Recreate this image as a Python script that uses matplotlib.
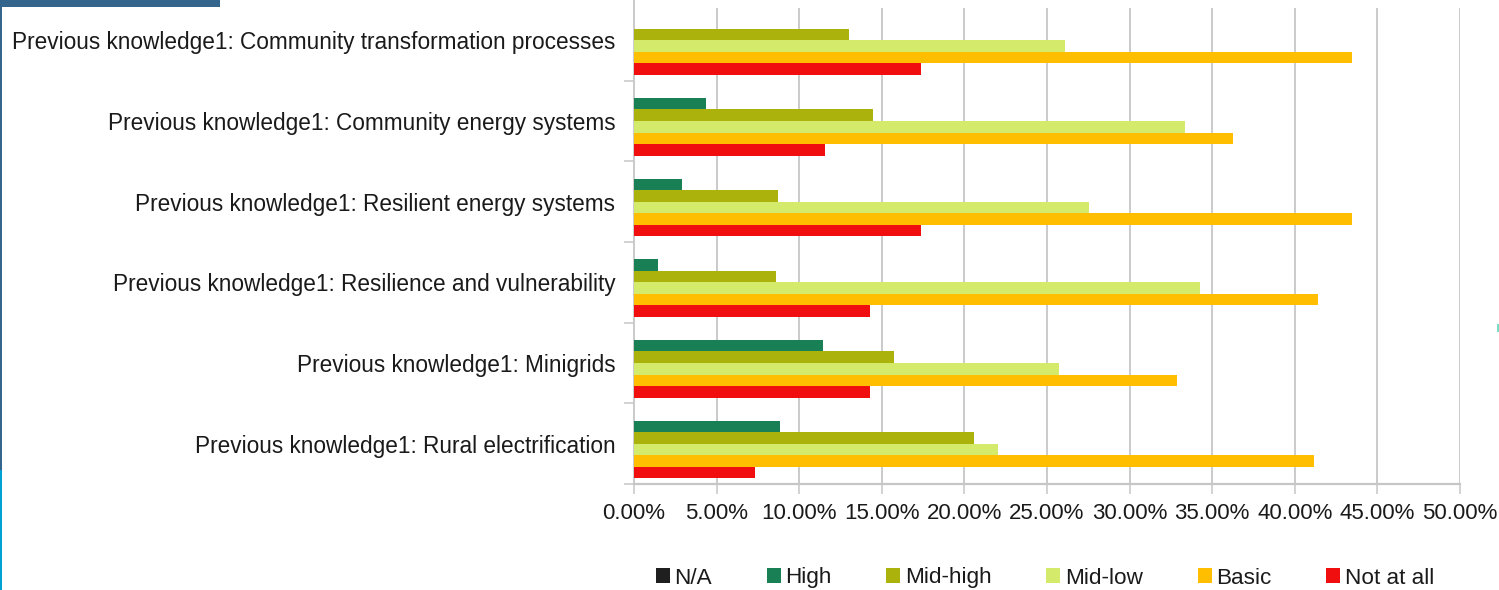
import matplotlib
matplotlib.use("Agg")
import matplotlib.pyplot as plt
import numpy as np
from matplotlib.patches import Rectangle
from matplotlib.ticker import FixedLocator, FuncFormatter

plt.rcParams["font.family"] = ["Liberation Sans", "DejaVu Sans"]

categories = [
    "Previous knowledge1: Community transformation processes",
    "Previous knowledge1: Community energy systems",
    "Previous knowledge1: Resilient energy systems",
    "Previous knowledge1: Resilience and vulnerability",
    "Previous knowledge1: Minigrids",
    "Previous knowledge1: Rural electrification",
]
series_names = ["N/A", "High", "Mid-high", "Mid-low", "Basic", "Not at all"]
series_colors = ["#1f1f1f", "#188054", "#acb20c", "#d4ea6b", "#ffbf00", "#f00e0e"]

# shares (%) per category, one list per answer level
na_vals = [0.0, 0.0, 0.0, 0.0, 0.0, 0.0]
high_vals = [0.0, 4.35, 2.90, 1.43, 11.43, 8.82]
midhigh_vals = [13.04, 14.49, 8.70, 8.57, 15.71, 20.59]
midlow_vals = [26.09, 33.33, 27.54, 34.29, 25.71, 22.06]
basic_vals = [43.48, 36.23, 43.48, 41.43, 32.86, 41.18]
notatall_vals = [17.39, 11.59, 17.39, 14.29, 14.29, 7.35]
series_vals = [na_vals, high_vals, midhigh_vals, midlow_vals, basic_vals, notatall_vals]

x_ticks = [0, 5, 10, 15, 20, 25, 30, 35, 40, 45, 50]

W, H = 1499, 590
fig = plt.figure(figsize=(W / 100, H / 100), dpi=100)
ax = fig.add_axes([634 / W, 1 - 484 / H, (1460 - 634) / W, 484 / H])

n_ser = len(series_names)
bar_h = 0.857 / n_ser
pos = np.arange(len(categories))
for j, (name, vals, col) in enumerate(zip(series_names, series_vals, series_colors)):
    offs = (j - (n_ser - 1) / 2) * bar_h
    ax.barh(pos + offs, vals, height=bar_h, color=col, label=name, zorder=3,
            linewidth=0)

ax.set_ylim(len(categories) - 0.5, -0.5)
ax.set_xlim(0, 50)

grid_col = "#c6c6c6"
ax.xaxis.set_major_locator(FixedLocator(x_ticks))
ax.xaxis.set_major_formatter(FuncFormatter(lambda v, p: f"{v:.2f}%"))
# vertical grid lines, starting a little below the top of the plot area
ax.vlines(x_ticks[1:], len(categories) - 0.5, -0.5 + 8 / 80.7, colors=grid_col,
          linewidth=1.3, zorder=0)

ax.set_yticks(pos)
ax.set_yticklabels(categories)
ax.yaxis.set_minor_locator(FixedLocator(np.arange(0.5, len(categories), 1.0)))
ax.tick_params(axis="y", which="major", length=0, pad=13.5, labelsize=16.3,
               labelcolor="#1a1a1a")
ax.tick_params(axis="y", which="minor", length=7, width=1.1, color=grid_col)
ax.tick_params(axis="x", which="major", length=7, width=1.1, color=grid_col,
               pad=7, labelsize=16, labelcolor="#1a1a1a")

for side in ("top", "right"):
    ax.spines[side].set_visible(False)
ax.spines["left"].set_color(grid_col)
ax.spines["left"].set_linewidth(1.3)
ax.spines["bottom"].set_color(grid_col)
ax.spines["bottom"].set_linewidth(1.6)

handles, labels = ax.get_legend_handles_labels()
fig.legend(handles, labels, loc="center", bbox_to_anchor=(1045 / W, 1 - 578 / H),
           ncol=n_ser, frameon=False, fontsize=16.2, handlelength=0.62,
           handleheight=0.62, handletextpad=0.22, columnspacing=2.42,
           labelcolor="#1a1a1a")

# page decorations: header strip and left border
fig.add_artist(Rectangle((0, 1 - 7 / H), 220 / W, 7 / H, transform=fig.transFigure,
                         color="#34658c", lw=0))
fig.add_artist(Rectangle((0, 1 - 470 / H), 2 / W, 470 / H, transform=fig.transFigure,
                         color="#34658c", lw=0))
fig.add_artist(Rectangle((0, 0), 2 / W, 120 / H, transform=fig.transFigure,
                         color="#00a2d6", lw=0))
fig.add_artist(Rectangle((1497 / W, 1 - 332 / H), 2 / W, 8 / H, transform=fig.transFigure,
                         color="#7fdcc4", lw=0))

fig.savefig("out.png", dpi=100)
